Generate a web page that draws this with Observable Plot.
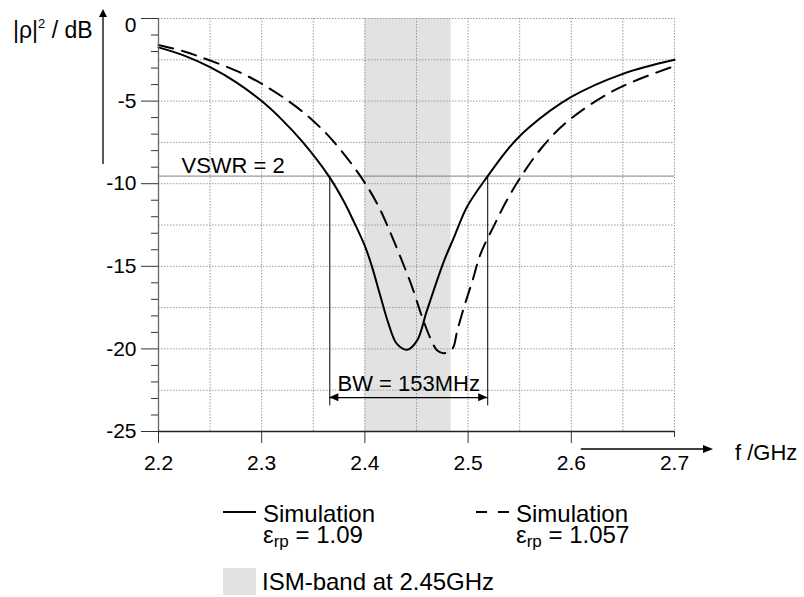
<!DOCTYPE html>
<html><head><meta charset="utf-8">
<script src="https://cdn.jsdelivr.net/npm/d3@7"></script>
<script src="https://cdn.jsdelivr.net/npm/@observablehq/plot@0.6"></script>
<style>
body{margin:0;background:#fff;}
#chart{position:relative;width:804px;height:597px;font-family:"Liberation Sans",Arial,sans-serif;}
svg{display:block}
</style></head><body><div id="chart"></div>
<script>
// ---- data ----
const freqSolid = [2.2, 2.225, 2.25, 2.275, 2.3, 2.32, 2.34, 2.365, 2.379, 2.3885, 2.4005, 2.407, 2.415, 2.423, 2.431, 2.441, 2.4505, 2.46, 2.4765, 2.486, 2.499, 2.519, 2.54, 2.559, 2.6, 2.65, 2.7];
const dbSolid   = [-1.75, -2.25, -2.95, -3.85, -5.0, -6.15, -7.5, -9.54, -11.0, -12.2, -13.85, -15.05, -16.8, -18.5, -19.7, -20.05, -19.5, -17.7, -14.7, -13.3, -11.4, -9.54, -7.8, -6.6, -4.75, -3.35, -2.5];
const freqDashed = [2.2, 2.225, 2.248, 2.275, 2.3, 2.326, 2.35, 2.3704, 2.3956, 2.4118, 2.4231, 2.4345, 2.4458, 2.4555, 2.4652, 2.4701, 2.4765, 2.4847, 2.4895, 2.4959, 2.5041, 2.5121, 2.525, 2.538, 2.5541, 2.5703, 2.5898, 2.6124, 2.6383, 2.6643, 2.7];
const dbDashed   = [-1.6, -2.0, -2.5, -3.15, -3.95, -5.0, -6.2, -7.5, -9.54, -11.2, -12.73, -14.45, -16.26, -18.08, -19.6, -20.1, -20.26, -20.0, -18.9, -17.5, -15.9, -14.25, -12.55, -10.95, -9.3, -7.9, -6.58, -5.47, -4.46, -3.71, -2.88];

const xTicks = [2.2, 2.3, 2.4, 2.5, 2.6];
const xLastTick = [2.7];
const yTicks = [-5, -10, -15, -20, -25];
const yTopTick = [0];
const yMinor = [-1,-2,-3,-4,-6,-7,-8,-9,-11,-12,-13,-14,-16,-17,-18,-19,-21,-22,-23,-24];
const xGrid = [2.2, 2.25, 2.3, 2.35, 2.4, 2.45, 2.5, 2.55, 2.6, 2.65, 2.7];
const yGrid = [0, -2.5, -5, -7.5, -10, -12.5, -15, -17.5, -20, -22.5, -25];

const vswrDb = -9.54;
const vswrLabel = "VSWR = 2";
const bwEdges = [2.366, 2.519];
const bwLabel = "BW = 153MHz";
const bwArrowDb = -22.95;
const bwLineEndDb = -23.45;
const ismBand = [[2.4, 2.4835]];

const yLabel = ["|ρ|", "2", " / dB"];
const xLabel = "f /GHz";
const legendNames = ["Simulation", "Simulation"];
const legendEps = ["1.09", "1.057"];
const ismLabel = "ISM-band at 2.45GHz";

// ---- tables ----
const solid = freqSolid.map((f, i) => ({f, db: dbSolid[i]}));
const dashed = freqDashed.map((f, i) => ({f, db: dbDashed[i]}));

const W = 804, H = 480, mL = 158, mR = 130, mT = 18, mB = 49;
const FONT = '"Liberation Sans", Arial, sans-serif';
const fmt = d => String(d);

const plot = Plot.plot({
  width: W, height: H,
  marginLeft: mL, marginRight: mR, marginTop: mT, marginBottom: mB,
  x: {domain: [2.2, 2.7], axis: null},
  y: {domain: [-25, 0], axis: null},
  style: {fontFamily: FONT, fontSize: "21px", color: "#000", background: "#fff", overflow: "visible"},
  marks: [
    Plot.rect(ismBand, {x1: d => d[0], x2: d => d[1], fill: "#e2e2e2"}),
    Plot.ruleX(xGrid, {stroke: "#9a9a9a", strokeDasharray: "1.5,1.5"}),
    Plot.ruleY(yGrid, {stroke: "#9a9a9a", strokeDasharray: "1.5,1.5"}),
    Plot.ruleY([vswrDb], {stroke: "#808080", strokeWidth: 1}),
    Plot.ruleX(bwEdges, {y1: vswrDb, y2: bwLineEndDb, stroke: "#000", strokeWidth: 1}),
    Plot.ruleY([bwArrowDb], {x1: bwEdges[0], x2: bwEdges[1], stroke: "#000", strokeWidth: 1.3}),
    Plot.line(solid, {x: "f", y: "db", stroke: "#000", strokeWidth: 2, curve: "catmull-rom"}),
    Plot.line(dashed, {x: "f", y: "db", stroke: "#000", strokeWidth: 2, strokeDasharray: "15,9", curve: "catmull-rom"}),
    Plot.ruleX([2.2], {stroke: "#666", strokeWidth: 1.3}),
    Plot.ruleY([-25], {stroke: "#222", strokeWidth: 1.3}),
    Plot.axisY({ticks: yTicks, tickSize: 17, tickPadding: 5, tickFormat: fmt, stroke: "#333", label: null}),
    Plot.axisY({ticks: yTopTick, tickSize: 17, tickFormat: () => "", stroke: "#333", label: null}),
    Plot.text(yTopTick, {y: d => d, text: fmt, frameAnchor: "left", dx: -22, dy: 7, textAnchor: "end"}),
    Plot.axisY({ticks: yMinor, tickSize: 7, tickFormat: () => "", stroke: "#333", label: null}),
    Plot.axisX({ticks: xTicks, tickSize: 12, tickPadding: 12, tickFormat: d3.format(".1f"), stroke: "#333", label: null}),
    Plot.axisX({ticks: xLastTick, tickSize: 6, tickPadding: 18, tickFormat: d3.format(".1f"), stroke: "#333", label: null}),
    Plot.text([vswrLabel], {text: d => d, y: vswrDb, frameAnchor: "left", dx: 23, dy: -3, textAnchor: "start", lineAnchor: "bottom", fontSize: 22}),
    Plot.text([bwLabel], {text: d => d, x: (bwEdges[0] + bwEdges[1]) / 2, y: bwArrowDb, dy: -7, lineAnchor: "bottom", fontSize: 22})
  ]
});

const sx = v => plot.scale("x").apply(v);
const sy = v => plot.scale("y").apply(v);
const svg = d3.select(plot);

// white box behind BW label (covers the band there)
const bwText = Array.from(plot.querySelectorAll("text")).find(t => t.textContent === bwLabel);
if (bwText) {
  const bb = bwText.getBBox();
  const bandG = plot.querySelector('g[aria-label="rect"]');
  const r = document.createElementNS("http://www.w3.org/2000/svg", "rect");
  r.setAttribute("x", bb.x - 4); r.setAttribute("y", bb.y);
  r.setAttribute("width", bb.width + 8); r.setAttribute("height", bb.height);
  r.setAttribute("fill", "#fff");
  bandG.parentNode.insertBefore(r, bandG.nextSibling);
}

const deco = svg.append("g").attr("text-anchor", "start");
function head(tx, ty, ux, uy, len, half) {
  const bx = tx - ux * len, by = ty - uy * len;
  const px = -uy, py = ux;
  deco.append("path")
    .attr("d", `M${tx},${ty}L${bx + px * half},${by + py * half}L${bx - px * half},${by - py * half}Z`)
    .attr("fill", "#000");
}
// BW arrow heads
head(sx(bwEdges[0]), sy(bwArrowDb), -1, 0, 9, 4);
head(sx(bwEdges[1]), sy(bwArrowDb), 1, 0, 9, 4);

// y-axis arrow + label
const ax = mL - 55;
deco.append("line").attr("x1", ax).attr("x2", ax).attr("y1", mT + 146).attr("y2", mT - 6)
  .attr("stroke", "#000").attr("stroke-width", 1.3);
head(ax, mT - 9, 0, -1, 8, 4);
const yl = deco.append("text").attr("x", 13).attr("y", mT + 20).attr("text-anchor", "start")
  .attr("font-family", FONT).attr("font-size", 23).attr("fill", "#000");
yl.append("tspan").text(yLabel[0]);
yl.append("tspan").attr("font-size", 13).attr("dy", -10).text(yLabel[1]);
yl.append("tspan").attr("dy", 10).text(yLabel[2]);

// x-axis arrow + label
const ay = H - mB + 18;
deco.append("line").attr("x1", sx(2.6) + 10).attr("x2", W - 96).attr("y1", ay).attr("y2", ay)
  .attr("stroke", "#000").attr("stroke-width", 1.3);
head(W - 91, ay, 1, 0, 10, 4);
deco.append("text").attr("x", W - 69).attr("y", ay + 11).attr("text-anchor", "start")
  .attr("font-family", FONT).attr("font-size", 22).attr("fill", "#000").text(xLabel);

const chart = document.getElementById("chart");
chart.appendChild(plot);

// ---- legend below the plot ----
const leg = d3.select(chart).append("svg").attr("width", W).attr("height", 597 - H)
  .attr("font-family", FONT).attr("fill", "#000");
const cols = [{x: 223, dash: null}, {x: 476, dash: "11,11"}];
cols.forEach((c, i) => {
  const ln = leg.append("line").attr("x1", c.x).attr("x2", c.x + 33).attr("y1", 32).attr("y2", 32)
    .attr("stroke", "#000").attr("stroke-width", 2);
  if (c.dash) ln.attr("stroke-dasharray", c.dash);
  const tx = c.x + 40;
  leg.append("text").attr("x", tx).attr("y", 42).attr("font-size", 24).text(legendNames[i]);
  const e = leg.append("text").attr("x", tx).attr("y", 63).attr("font-size", 24);
  e.append("tspan").text("ε");
  e.append("tspan").attr("font-size", 17).attr("dy", 4).text("rp");
  e.append("tspan").attr("dy", -4).text(" = " + legendEps[i]);
});
leg.append("rect").attr("x", 223).attr("y", 88).attr("width", 33).attr("height", 27).attr("fill", "#e2e2e2");
leg.append("text").attr("x", 262).attr("y", 110).attr("font-size", 24).text(ismLabel);
</script></body></html>
